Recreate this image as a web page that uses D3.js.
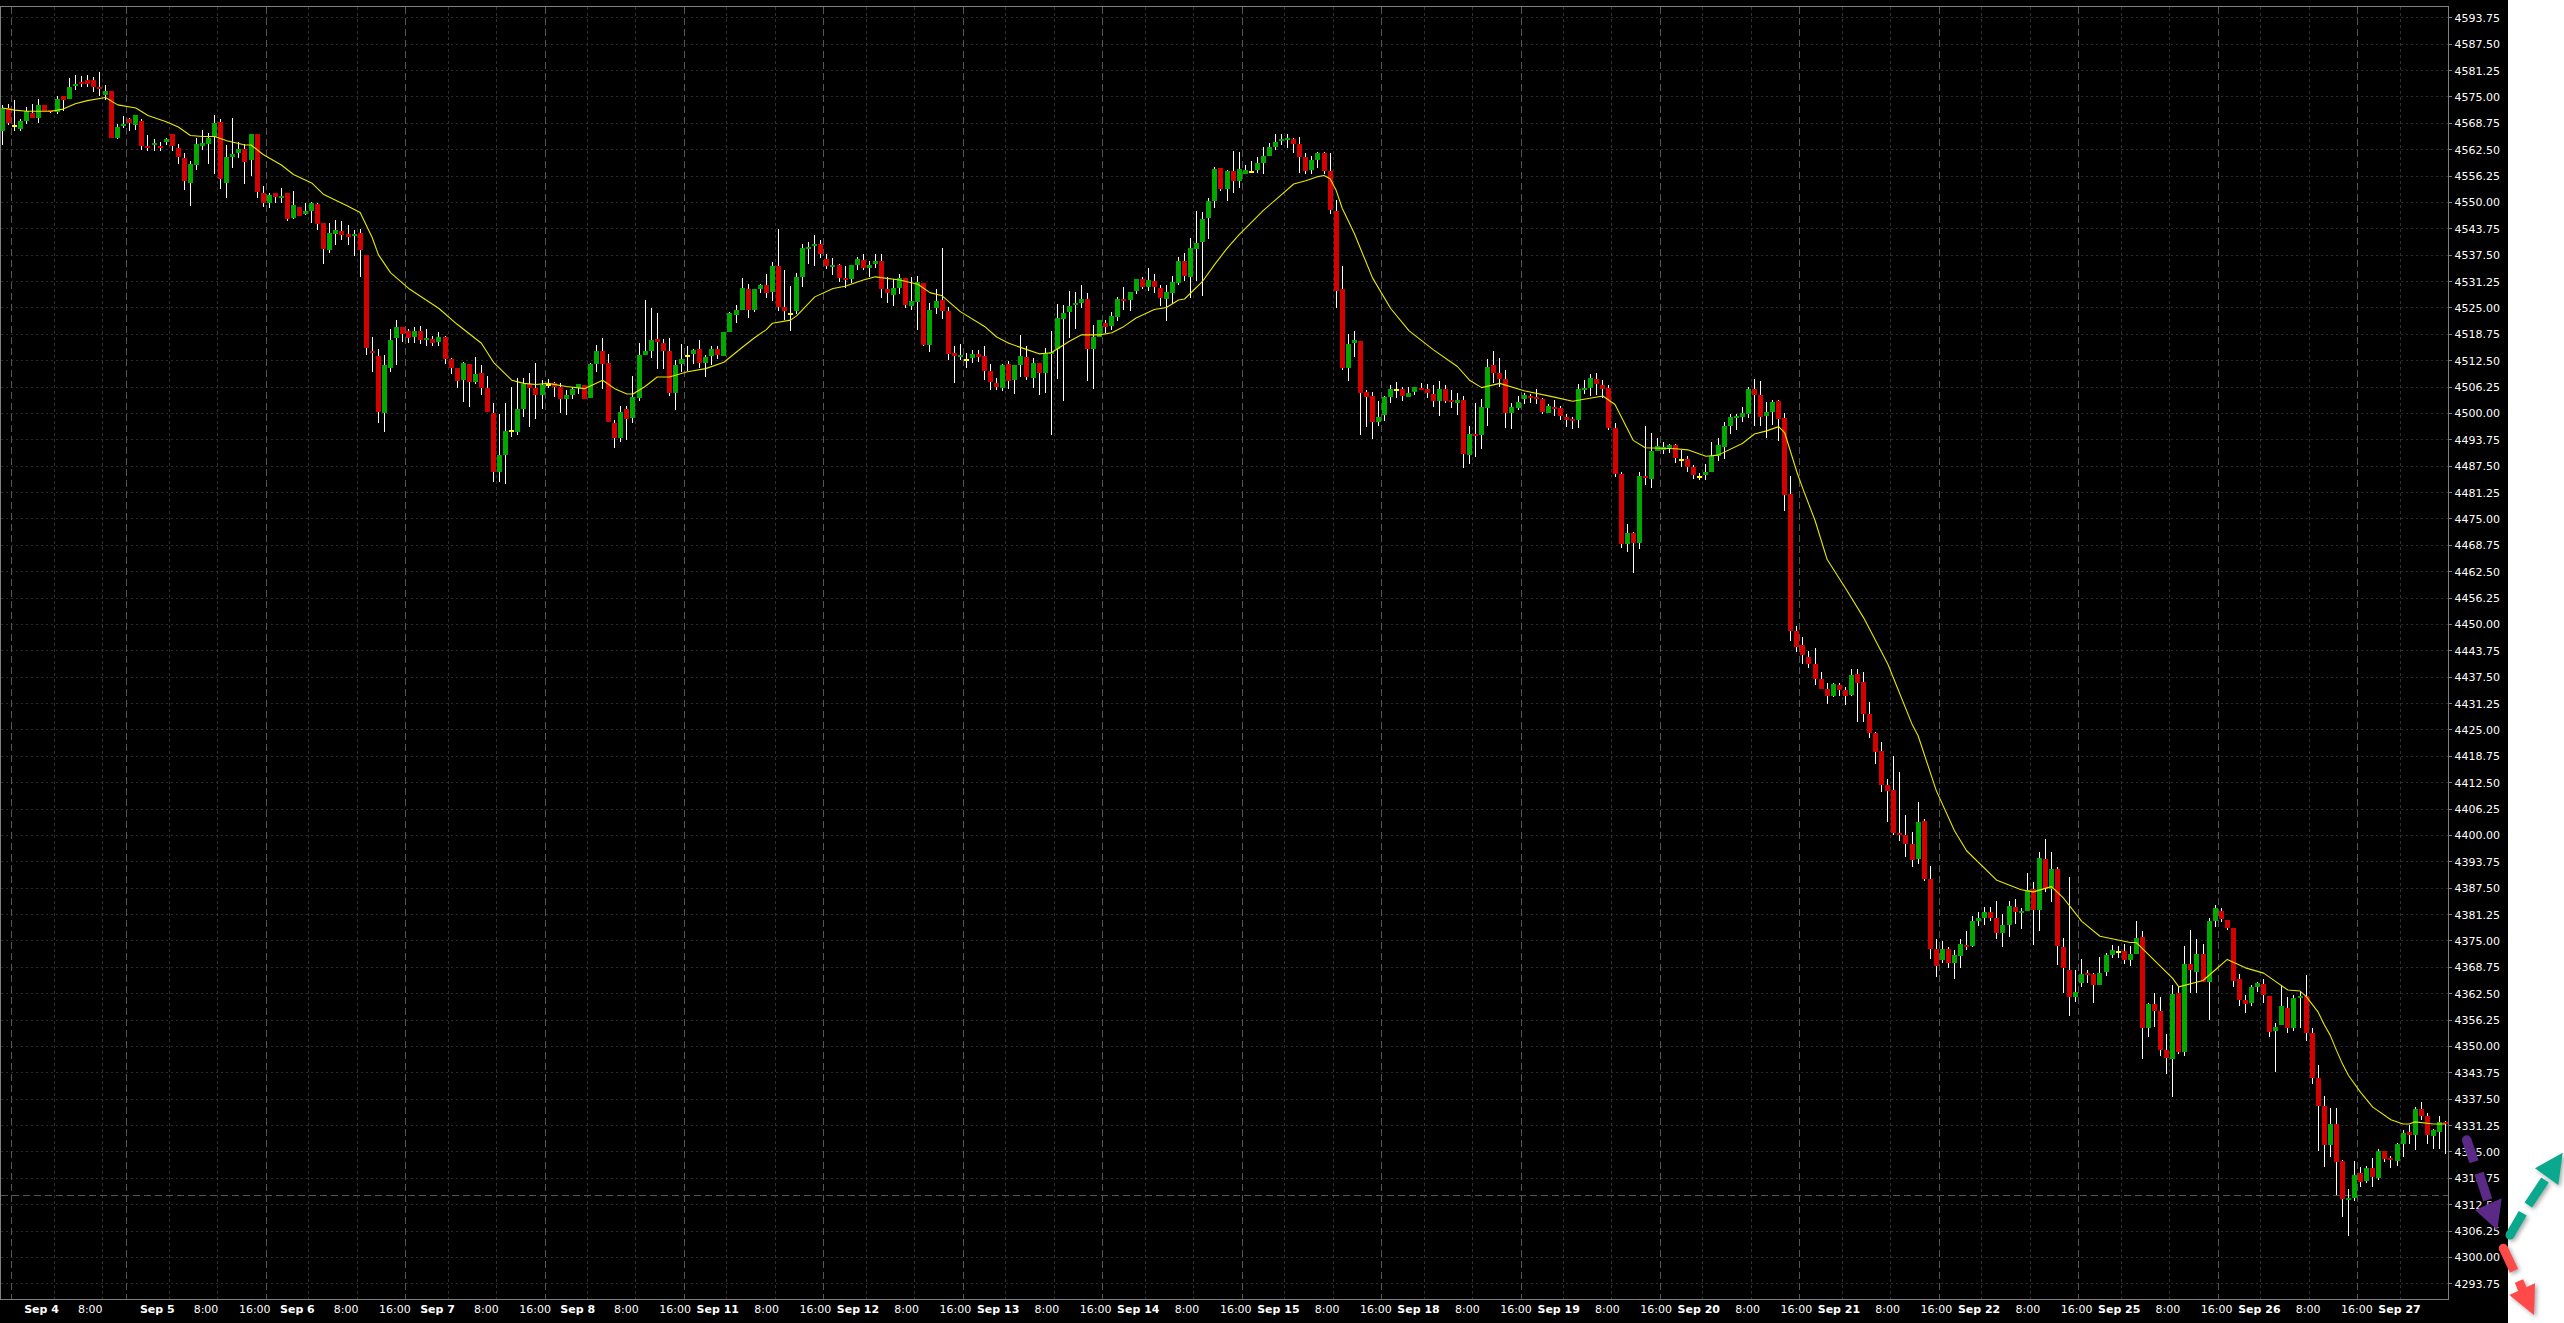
<!DOCTYPE html>
<html><head><meta charset="utf-8">
<script src="https://cdn.jsdelivr.net/npm/d3@7/dist/d3.min.js"></script>
<style>html,body{margin:0;padding:0;background:#fff;overflow:hidden}svg{display:block}text{font-family:"DejaVu Sans",sans-serif}</style>
</head><body><svg id="c" width="2564" height="1323"></svg>
<script>
const opens=[4566.75,4572.25,4568.25,4567.25,4569.25,4571,4570,4573,4571.75,4571.25,
4575,4574.5,4577.5,4578.5,4579,4579,4577.25,4575.25,4576.25,4565.25,
4568,4569.75,4568.25,4569.25,4563.25,4563.5,4563.25,4564.25,4566,4562.75,
4560.5,4554.5,4558.75,4563.25,4563.75,4565.5,4569,4554.5,4560.75,4561.5,
4562.5,4560,4566,4552,4549.75,4552,4551,4552,4546.25,4548.75,
4547.25,4547.75,4549.5,4545,4538.5,4542.5,4543,4542.5,4542.25,4542.75,
4537.5,4514.75,4513.5,4500,4510.75,4517.75,4520.25,4519.5,4518,4519.5,
4517.25,4517.5,4516.75,4518,4512.75,4510.75,4507.75,4511.5,4507.25,4509.5,
4506,4500,4486,4490,4496,4495.5,4501,4506.75,4506,4504.25,
4506.75,4507,4506.25,4503.25,4504.25,4506,4506.5,4503.5,4511.5,4514.75,
4511.75,4497.5,4494,4501,4498.75,4503.5,4513.75,4514.75,4517.5,4516.5,
4514.75,4504.75,4511.5,4513.75,4514,4515.25,4511.75,4513.5,4515.25,4513.5,
4519.25,4523.25,4524.5,4529.25,4524.5,4529.25,4530.25,4528.75,4534.75,4525,
4523.75,4524.25,4532.25,4538.75,4539.5,4540,4536.5,4534.5,4535,4532,
4531.75,4535,4536.25,4534.25,4535.25,4536,4529.25,4528,4529.5,4532,
4525.25,4526.25,4530.75,4516,4524.75,4526.75,4524.25,4514.25,4513.25,4512.75,
4513,4514,4513.5,4510,4507,4506,4511.5,4507.75,4511.25,4513.25,
4508.25,4511.75,4509.5,4514.25,4515.25,4522.25,4524,4525.5,4526,4527,
4515.25,4518,4521.25,4520.5,4522.75,4527,4526.75,4529,4531.75,4529.75,
4531.25,4529.5,4527,4528.5,4530.75,4536,4532.25,4538.75,4540.5,4546.25,
4550.25,4558,4553,4557.25,4555,4556.5,4557.25,4557.5,4559.25,4561,
4563,4564.5,4564.75,4565,4563.75,4560.75,4557.5,4560,4561.5,4557.25,
4547.75,4529.25,4510.75,4516.5,4517,4505,4504,4497.75,4499.5,4503.75,
4505.75,4505.75,4503.75,4505,4506,4505.75,4504.5,4502.75,4505.75,4503,
4502.25,4503,4490,4495,4494.75,4501.25,4511.25,4509.5,4508,4500,
4501.25,4503.25,4504,4503.75,4503.25,4500,4501.5,4501.25,4499,4498.5,
4498.25,4505.5,4506,4508,4506.5,4506,4496.5,4485.5,4469,4471.5,
4469.25,4485,4484.25,4491,4491.25,4491.75,4492.5,4489,4489,4487.25,
4485,4485.25,4486,4489.75,4492,4497,4498.75,4499,4499.75,4505.75,
4504.25,4499.25,4500.25,4502.75,4498.75,4480.75,4448.25,4445,4442.25,4440.5,
4437,4434.5,4433,4435.5,4434.25,4433.25,4438.25,4436.25,4428.75,4424.25,
4420,4411.75,4410.75,4400.5,4400,4397.75,4394.25,4403.25,4389.5,4373,
4370.25,4373,4369.75,4371.25,4374,4373.75,4379.5,4380.25,4381.75,4380.25,
4376.75,4378.75,4383,4381.75,4382,4387.25,4382.25,4394.25,4387.25,4392,
4373.5,4368,4361.5,4365,4367.25,4367,4364.5,4367.5,4371.5,4372.5,
4372.5,4370.25,4371.75,4375.75,4354.25,4360,4358.25,4349,4347,4362.5,
4348.5,4369.5,4367.5,4371.75,4365.25,4379.5,4382,4379.75,4378,4365.75,
4361,4360.25,4364,4364.75,4361.75,4353.5,4355,4359,4354.25,4361.25,
4361.75,4353,4342.5,4335.75,4326.5,4331.5,4322.75,4313.5,4314,4320,
4318,4321,4318.75,4325,4323.5,4322.75,4326.75,4329.5,4329,4335,
4333.5,4328.75,4329.5,4332];
const highs=[4573,4573.25,4574.25,4569.75,4572.5,4573.25,4574.5,4573,4571.75,4575,
4575,4579.25,4580,4579.75,4580,4579.5,4580.75,4577.75,4576.25,4568.5,
4570.25,4570,4570.5,4569.75,4565.75,4565,4564.25,4565.25,4566,4563.75,
4561.5,4559.75,4565.25,4567,4566.25,4570.5,4569.75,4563.5,4570,4564.25,
4563.75,4566,4566,4553.75,4552,4552,4553.25,4552,4552.5,4548.75,
4549.75,4550,4549.75,4545,4545,4545.75,4545.5,4544.5,4543.25,4543.5,
4537.5,4518,4515.25,4513.75,4520,4522,4520.25,4520,4520.25,4520.5,
4520,4518.25,4519.25,4518.25,4513,4510.75,4512,4511.5,4513.25,4511.25,
4508.75,4502.25,4499.75,4502.25,4506.25,4508.25,4508.25,4509.5,4511.75,4507.75,
4508,4507.25,4507,4505.5,4506.25,4506.75,4506.5,4511.75,4516,4517.75,
4514,4498.25,4501.75,4501.75,4508.75,4516.5,4526.75,4524.75,4523.75,4517.5,
4517.75,4512.5,4516.25,4515.75,4515.25,4517.25,4513.75,4515.75,4515.75,4519.25,
4524,4525.5,4532,4530.5,4529.25,4530.5,4533,4535.75,4543.5,4533.75,
4530,4533.25,4540,4540.5,4542.25,4541,4537.75,4536.75,4535.25,4534.75,
4535,4537,4537.75,4536,4537.75,4537.75,4532.25,4531.75,4533,4532,
4532.25,4532.5,4530.75,4526,4529.25,4539,4525,4515.75,4516.25,4514.25,
4515,4515,4515.75,4511.5,4508.25,4511.5,4512.25,4511.25,4518.5,4515.75,
4513,4511.75,4515.5,4519.5,4525.75,4525.5,4529,4528.75,4530.25,4528.5,
4520.75,4522,4522,4524,4527.5,4529.75,4528.75,4531.75,4532.25,4534.25,
4533,4530.25,4530.25,4532.5,4537,4538,4541.5,4547.75,4547.5,4551,
4558.25,4558,4557.5,4562,4561.75,4558.75,4559.75,4560.75,4563,4564,
4566,4566,4566,4565.25,4565.5,4561.5,4561,4561.75,4561.75,4561.5,
4550.5,4534.75,4518.75,4519.5,4517,4505.5,4505,4502.75,4504,4506.5,
4507.25,4506.25,4506.25,4506.25,4507,4506.75,4506.5,4507.5,4506.5,4505.5,
4504.75,4504,4497,4502.25,4503.25,4512.75,4514.75,4513,4510.25,4502.25,
4504,4504.75,4504.5,4505.75,4503.5,4502,4503,4501.75,4499.75,4499,
4506.75,4507.75,4509.25,4509.5,4507.75,4506.5,4497.5,4486,4473.75,4471.75,
4486,4497,4495.25,4494,4493,4492.75,4492.75,4491.25,4489.75,4487.75,
4485.75,4488,4493,4494,4497.75,4499.75,4499.75,4501.5,4506.25,4508,
4507.5,4502.5,4503,4503,4500,4485,4449.5,4447,4443.5,4444.25,
4438.5,4436,4436,4436,4435,4439.25,4439.25,4438.5,4431.5,4424.5,
4422,4413.25,4418.75,4415,4404.75,4400.75,4407.75,4403.75,4392.75,4375.25,
4374.75,4373.5,4372.75,4375.25,4377.25,4380.75,4381.75,4383,4383,4384.25,
4381.25,4384.25,4384.75,4382.75,4391,4388.75,4396,4399,4396,4392.5,
4375.5,4390,4368,4370.5,4368,4367.25,4371,4372,4374,4373.75,
4374.25,4373.75,4379.5,4377.25,4360.25,4362.5,4361.5,4352.75,4364.5,4364,
4373.75,4377.5,4375.25,4374.25,4380.25,4383.5,4382.75,4379.75,4378,4367,
4362,4364.5,4365.25,4365.75,4361.75,4355.5,4364.5,4361.5,4362,4363,
4366.75,4354.25,4345.5,4338.25,4335.25,4335.25,4323,4316,4322.75,4321.25,
4321.5,4323.5,4325.5,4325,4324,4327,4330,4331.25,4335.5,4336.75,
4334,4330.25,4333.5,4332.25];
const lows=[4563.5,4568.25,4566.75,4566.75,4568.5,4570,4568.75,4571.5,4571,4570.75,
4571.5,4574.5,4576.5,4577.25,4577.25,4576,4575,4574.25,4565.25,4565,
4567.5,4566.75,4567,4562.25,4562,4562,4562,4563.5,4562,4559,
4552.75,4549,4557.5,4562.25,4559,4556.5,4553,4551,4558,4560.5,
4554.25,4556.25,4551,4548.75,4548.5,4549.75,4549.75,4545.5,4546,4546.75,
4547,4545,4543.25,4535.25,4538,4539.75,4541,4539.75,4537.25,4532.25,
4513.75,4509.75,4497.5,4495.5,4509.75,4511.25,4516.75,4516.5,4516.5,4516.25,
4515.75,4515.75,4515.75,4511.5,4509.25,4506,4502.5,4501.5,4506.75,4504.25,
4500.25,4483.75,4483.75,4483.25,4494.25,4494.75,4499,4496.75,4498.5,4501,
4506,4503.75,4500,4499.5,4503.25,4504.5,4503.25,4503.5,4509.75,4505.75,
4497.75,4491.75,4493,4493.5,4497.5,4502.75,4513.75,4513,4510.5,4510.5,
4504,4500.75,4509.75,4510,4511.5,4510.75,4508.5,4511.25,4512.75,4513.5,
4519.25,4521.25,4524.5,4522.5,4524,4528.5,4527.25,4526.5,4524.25,4522,
4519.5,4523.5,4529.75,4535.25,4534.75,4536.75,4534,4532.75,4531,4529.5,
4530.75,4533.75,4533.75,4532.25,4534.25,4527.25,4526,4525.25,4528.25,4524.75,
4524.5,4519.75,4515.75,4514.5,4523.5,4522.25,4512.5,4507,4512.5,4510.75,
4511.75,4512,4507.75,4505.5,4505.5,4505.25,4505.75,4504.5,4508.5,4507.75,
4506,4504.25,4504.75,4494.75,4508,4502.75,4517.75,4520,4524.75,4507.5,
4505.75,4518,4519,4519.75,4521.75,4524.5,4524.25,4528.25,4529.25,4529,
4528.5,4525.25,4521.75,4525.75,4530.25,4531.25,4527.25,4531.25,4527.75,4541.25,
4548.5,4552.5,4550.25,4552,4553.25,4556.5,4556.75,4556.75,4556.5,4561,
4562.25,4563.5,4562.75,4561.5,4556.75,4556.5,4556.5,4558,4556.5,4547.25,
4524.75,4510.25,4507.5,4513.25,4494.75,4496.75,4493.75,4497,4498,4502.25,
4503.5,4502.75,4503.75,4504.25,4505.5,4503.5,4501.5,4499.25,4502.25,4501.25,
4499.5,4487,4488,4489.5,4491.5,4497,4507,4506.25,4496.5,4496.25,
4500.75,4502,4502.25,4502,4499.75,4500,4499.25,4498.25,4496.75,4496.25,
4496.5,4504.5,4504,4504.25,4503.5,4496,4484.75,4468,4467,4462,
4467.75,4483,4482.25,4491,4490.25,4490.5,4488.25,4487.25,4486,4484.25,
4484,4484,4486,4488.5,4489,4495,4496,4497.75,4498.75,4497,
4497,4494,4497.25,4493.25,4476.75,4446,4443.25,4440.5,4439.5,4435.5,
4434.5,4431,4432.75,4433,4430.75,4433,4426.75,4426.75,4423,4416.75,
4410.25,4403,4400,4398.5,4394.75,4392.5,4393,4389,4370.5,4366.25,
4369.75,4368.5,4365.75,4368.5,4372.75,4373.5,4378.5,4378.75,4379.5,4375.25,
4373.5,4375.75,4379,4377.75,4382,4374,4377.25,4386.5,4384,4369.25,
4362.5,4357,4360.5,4364,4365,4360.25,4364.5,4366.5,4370.75,4370.75,
4369.5,4369,4371.75,4347,4352,4354.5,4347.5,4343.25,4338,4348,
4347.5,4362.5,4362.5,4365.25,4356.25,4378.25,4379.25,4377.5,4364,4359.5,
4357.75,4359.5,4362.75,4360.25,4352,4343.75,4355,4353,4353.5,4354.25,
4351.25,4341,4325,4321.25,4323.75,4314.75,4309.5,4305,4313.25,4316.5,
4317.5,4316.5,4318.25,4322.5,4321,4321.5,4323.75,4326.75,4325.25,4332.5,
4326.75,4325.5,4325.5,4324.5];
const closes=[4572.25,4568.75,4568.25,4569.25,4571.5,4570,4573,4571.5,4571.5,4574.5,
4574.25,4577.25,4578,4578,4578,4577.25,4576.75,4576.25,4565.25,4567.75,
4568.5,4568.75,4570.5,4563.25,4562.75,4564,4562.75,4565,4563.25,4560.75,
4555,4559,4563.75,4564,4565.25,4568.75,4555.5,4560.75,4561.25,4562.5,
4559.5,4566,4552.25,4549.75,4551.75,4551.25,4551.5,4546,4549.25,4546.75,
4547.75,4549.75,4544.75,4538.75,4542.75,4543.25,4542.25,4541.75,4542.5,4538.5,
4515.5,4514.25,4500.25,4511.25,4517.25,4520.25,4518.75,4517.75,4519.5,4517.25,
4517.75,4516.5,4518,4512.75,4510.75,4507.5,4511.75,4507.25,4509.25,4506,
4500.25,4486,4490,4495.75,4496,4501,4506.75,4506,4504.25,4506.5,
4506.75,4506.25,4503.25,4504.25,4505.75,4506.75,4503.25,4511.5,4514.75,4511.5,
4497.75,4494,4500.25,4498.5,4503.75,4513.75,4514.75,4517.25,4516.75,4514.75,
4504.75,4511.25,4512.75,4513.75,4515,4511.75,4513.25,4515.25,4513.75,4519.25,
4523.75,4524.5,4529.5,4524.5,4529.25,4530.25,4528.5,4534.75,4525,4524.25,
4523.75,4532.25,4539,4539.25,4540,4537.75,4534.75,4535,4532,4531.5,
4535,4536.5,4534.25,4535,4536,4529.25,4528.5,4529.5,4532,4525.5,
4526.5,4531,4516,4524.5,4526.5,4524.25,4514,4513.5,4513.75,4512.75,
4514,4513.25,4510,4507.25,4506.25,4511.25,4507.5,4511.25,4513.5,4508.5,
4511.75,4509.5,4514.25,4514.5,4522.5,4523.75,4525.25,4526,4527,4515.25,
4518,4522,4520.25,4523,4527,4526.5,4528.75,4531.75,4529.75,4531.5,
4529.75,4527.25,4528.75,4531,4536,4532.5,4539,4540.25,4546,4550.25,
4557.75,4553,4557.25,4555,4557.75,4557.5,4557.25,4559.25,4561,4563,
4564.25,4565,4565.25,4563.75,4560.75,4557.25,4560,4561.5,4557.25,4548,
4529,4510.75,4516.25,4517.25,4504.75,4503.75,4497.75,4499,4503.75,4505.75,
4505.75,4504,4504.75,4506.25,4505.75,4504.75,4502.75,4505.75,4502.75,4502.5,
4503,4490.25,4495,4494.5,4501.5,4511,4509.5,4508,4500,4501.5,
4502.5,4504.25,4503.5,4503.25,4500.25,4501.75,4501.25,4499.25,4498.25,4498,
4505.75,4506,4508.25,4506.75,4505.75,4496.5,4485.5,4469,4471.5,4469.25,
4485,4484.5,4491,4492.25,4492,4492.5,4489.25,4489,4487.25,4485.25,
4485,4486,4489.75,4492.5,4497,4499,4499.25,4500,4505.75,4504.25,
4499,4500.25,4502.5,4498.5,4480.5,4448.25,4444.5,4442.75,4440.5,4437,
4434.5,4433,4435.75,4434.25,4433,4438,4436,4428.75,4424.25,4419.75,
4411.75,4410.5,4400.5,4400,4397.75,4394,4403,4389.5,4373,4369,
4373,4369.75,4371.5,4374.25,4373.5,4379.5,4380.25,4381.75,4380.25,4376.75,
4378.75,4383.25,4381.75,4382,4387,4382.25,4394.5,4387.25,4392,4373.75,
4368.5,4361.5,4362.75,4367,4366.75,4364.5,4367.25,4371.5,4372.75,4372.5,
4370.25,4371.75,4375.5,4354.25,4360,4358.25,4349,4347.25,4362.25,4348.5,
4369.5,4368,4371.75,4365.25,4379.5,4382.75,4380,4378,4365.5,4361,
4360,4364,4365,4362,4353.25,4354.5,4359.5,4354.25,4361.25,4361.75,
4353,4342.5,4335.75,4326.5,4331.5,4322.5,4313.75,4314,4319.5,4317.75,
4321,4319,4325,4323.25,4323,4326.75,4329.25,4329,4335,4333.5,
4329,4330,4332,4331.5];
const maIndex=[0,2,4,8,10,12,14,17,19,22,24,27,29,31,33,35,37,40,41,43,46,48,51,53,57,59,61,62,64,67,72,75,79,81,84,86,88,90,93,96,99,101,103,104,106,108,110,113,116,119,122,124,126,127,130,131,134,137,139,142,144,148,151,153,155,158,162,164,166,169,171,173,176,178,181,183,185,187,190,192,194,195,198,200,202,204,208,210,213,215,217,218,219,220,221,223,226,229,232,236,240,242,244,247,251,256,259,264,266,269,271,276,278,281,283,287,289,291,293,294,296,297,299,301,304,307,311,315,316,319,322,324,329,333,335,338,340,343,346,351,352,358,359,363,365,367,370,373,377,379,380,382,383,384,385,386,387,389,391,394,396,397,398,401,403];
const maValue=[4572.25,4571.75,4571.5,4571.5,4572,4573.25,4574,4574.75,4573,4572.25,4570.5,4569,4567.75,4565.75,4565.5,4565.5,4564.5,4563.5,4563.5,4561.25,4558.75,4556.5,4554.5,4551.75,4549,4547.5,4541.5,4537.5,4533.25,4529.5,4524.75,4521,4516.5,4512,4507.75,4507,4506.75,4507,4506.25,4505.75,4507.75,4505.75,4504.5,4504.5,4506.25,4508.5,4508.5,4509.75,4510.5,4512,4515.5,4517.75,4519.75,4521.25,4522,4523,4527.5,4529.5,4530,4531.5,4532.25,4531.5,4530.5,4528.5,4527.75,4524,4520.5,4518,4516.5,4515,4514,4514.25,4517,4518.5,4518.5,4519,4520.5,4522.5,4524.5,4525,4526.75,4527,4531.25,4535.25,4539,4542.25,4548,4550.5,4554.25,4555,4556,4556.25,4555.5,4552.75,4548.5,4542.5,4532,4524.75,4519.5,4515,4511,4507.75,4506,4507,4505.25,4503.75,4502.75,4504,4502,4493.5,4491.75,4491.5,4491.25,4489.75,4490,4492.75,4495,4495.75,4496.75,4495.25,4486,4482,4474.5,4465.25,4458.5,4451.5,4440.5,4426.25,4423.5,4410.5,4401,4396.25,4389.25,4387,4386.5,4387.75,4385,4379.5,4376,4374.5,4374.5,4366,4364,4365.5,4368,4370.5,4368.5,4367.25,4363.25,4363,4361.75,4358,4355,4352.5,4349,4345.75,4343,4339,4335.5,4332.5,4331.5,4331.5,4332,4331.5,4331.5];
const yTicks=[4593.75,4587.5,4581.25,4575,4568.75,4562.5,4556.25,4550,4543.75,4537.5,4531.25,4525,4518.75,4512.5,4506.25,4500,4493.75,4487.5,4481.25,4475,4468.75,4462.5,4456.25,4450,4443.75,4437.5,4431.25,4425,4418.75,4412.5,4406.25,4400,4393.75,4387.5,4381.25,4375,4368.75,4362.5,4356.25,4350,4343.75,4337.5,4331.25,4325,4318.75,4312.5,4306.25,4300,4293.75];
const xTickIndex=[8.5,16.5,27.5,35.5,43.5,50.5,58.5,66.5,73.5,81.5,89.5,96.5,104.5,112.5,119.5,127.5,135.5,142.5,150.5,158.5,165.5,173.5,181.5,188.5,196.5,204.5,211.5,219.5,227.5,234.5,242.5,250.5,257.5,265.5,273.5,280.5,288.5,296.5,303.5,311.5,319.5,326.5,334.5,342.5,349.5,357.5,365.5,372.5,380.5,388.5,395.5];
const xTickLabels=["Sep 4","8:00","Sep 5","8:00","16:00","Sep 6","8:00","16:00","Sep 7","8:00","16:00","Sep 8","8:00","16:00","Sep 11","8:00","16:00","Sep 12","8:00","16:00","Sep 13","8:00","16:00","Sep 14","8:00","16:00","Sep 15","8:00","16:00","Sep 18","8:00","16:00","Sep 19","8:00","16:00","Sep 20","8:00","16:00","Sep 21","8:00","16:00","Sep 22","8:00","16:00","Sep 25","8:00","16:00","Sep 26","8:00","16:00","Sep 27"];
const dayLineIndex=[1.5,20.5,43.5,66.5,89.5,112.5,135.5,158.5,181.5,204.5,227.5,250.5,273.5,296.5,319.5,342.5,365.5,388.5];
const dimLineIndex=[8.5,16.5,27.5,35.5,50.5,58.5,73.5,81.5,96.5,104.5,119.5,127.5,142.5,150.5,165.5,173.5,188.5,196.5,211.5,219.5,234.5,242.5,257.5,265.5,280.5,288.5,303.5,311.5,326.5,334.5,349.5,357.5,372.5,380.5,395.5];
const markerPrice=4314.75;

const n=opens.length;
if(highs.length!==n||lows.length!==n||closes.length!==n||maIndex.length!==maValue.length)
  throw new Error("len "+[n,highs.length,lows.length,closes.length,maIndex.length,maValue.length].join(","));

const svg=d3.select("#c");
const F={l:0.5,t:6.5,r:2448.5,b:1299.5};
svg.append("rect").attr("x",0).attr("y",0).attr("width",2508).attr("height",1323).attr("fill","#000");
const x=d3.scaleLinear().domain([0,403]).range([2.5,2445.5]);
const y=d3.scaleLinear().domain([4593.75,4293.75]).range([17.3,1283.3]);
const labelX=d3.scaleLinear().domain([8.5,395.5]).range([41,2399]);
const px=v=>Math.floor(x(v))+.5;
const py=v=>Math.round(y(v))+.5;
const crisp="crispEdges";

const grid=svg.append("g").attr("shape-rendering",crisp).attr("fill","none");
grid.selectAll(".h").data(yTicks).join("line").attr("x1",F.l).attr("x2",F.r).attr("y1",py).attr("y2",py)
  .attr("stroke","#2a2a2a").attr("stroke-dasharray","2,3");
grid.selectAll(".d").data(dimLineIndex).join("line").attr("x1",px).attr("x2",px).attr("y1",F.t).attr("y2",F.b)
  .attr("stroke","#303030").attr("stroke-dasharray","3,3");
grid.selectAll(".b").data(dayLineIndex).join("line").attr("x1",px).attr("x2",px).attr("y1",F.t).attr("y2",F.b)
  .attr("stroke","#555").attr("stroke-dasharray","7,4");
grid.append("line").attr("x1",F.l).attr("x2",F.r).attr("y1",py(markerPrice)).attr("y2",py(markerPrice))
  .attr("stroke","#555").attr("stroke-dasharray","7,4");

const idx=d3.range(n);
const kind=i=>closes[i]>opens[i]?"up":closes[i]<opens[i]?"down":"flat";
const col={up:"#00a800",down:"#d40000",flat:"#ffff00"};
const g=svg.append("g").attr("shape-rendering",crisp);
g.selectAll(".w").data(idx).join("rect")
  .attr("x",i=>Math.floor(x(i))).attr("width",1)
  .attr("y",i=>Math.round(y(highs[i]))).attr("height",i=>Math.max(1,Math.round(y(lows[i]))-Math.round(y(highs[i]))))
  .attr("fill","#fff");
const bodyTop=i=>Math.round(y(Math.max(opens[i],closes[i])));
g.selectAll(".k").data(idx).join("rect")
  .attr("x",i=>Math.floor(x(i))-2).attr("width",5)
  .attr("y",bodyTop)
  .attr("height",i=>Math.max(2,Math.round(y(Math.min(opens[i],closes[i])))-bodyTop(i)))
  .attr("fill",i=>col[kind(i)]);

const ma=d3.line().x(i=>x(maIndex[i])).y(i=>y(maValue[i]));
svg.append("path").attr("d",ma(d3.range(maIndex.length))).attr("fill","none").attr("stroke","#e8e800").attr("stroke-width",1.1).attr("stroke-linejoin","round");

svg.append("rect").attr("x",F.l).attr("y",F.t).attr("width",F.r-F.l).attr("height",F.b-F.t).attr("fill","none").attr("stroke","#808080").attr("shape-rendering",crisp);

const yAxis=svg.append("g").attr("transform",`translate(${F.r},0)`)
  .call(d3.axisRight(y).tickValues(yTicks).tickFormat(d3.format(".2f")).tickSize(3).tickPadding(3));
yAxis.select(".domain").remove();
yAxis.selectAll("line").attr("stroke","#808080").attr("shape-rendering",crisp);
yAxis.selectAll("text").attr("fill","#fff").attr("font-size",11).style("font-family",'"DejaVu Sans"').attr("dy","0.36em");

const byIdx=new Map(xTickIndex.map((v,i)=>[v,xTickLabels[i]]));
const xAxis=svg.append("g").attr("transform",`translate(0,${F.b})`)
  .call(d3.axisBottom(labelX).tickValues(xTickIndex).tickFormat(v=>byIdx.get(v)).tickSize(0).tickPadding(6));
xAxis.select(".domain").remove();
xAxis.selectAll("text").attr("fill","#fff").attr("font-size",11).style("font-family",'"DejaVu Sans"')
  .attr("font-weight",v=>byIdx.get(v).startsWith("Sep")?"bold":"normal");

const arrows=[
 {c:"#5b2a86",w:9.5,segs:[[[2466.7,1140],[2474,1161.7]],[[2479,1173.3],[2487.7,1200]]],head:[[2475,1210],[2501.7,1198.3],[2497.3,1230]]},
 {c:"#0aa88c",w:9,segs:[[[2510,1235],[2522.7,1213.3]],[[2528.3,1205],[2545,1180]]],head:[[2535,1168.3],[2562.7,1152.7],[2558.3,1185]]},
 {c:"#ff4a4a",w:9,segs:[[[2503.3,1248.3],[2514,1270.7]],[[2519,1281],[2522.7,1290]]],head:[[2509.3,1295],[2535,1283.3],[2534,1315]]}
];
const ag=svg.append("g").style("filter","drop-shadow(2px 2px 2px rgba(0,0,0,.35))");
arrows.forEach(a=>{
  a.segs.forEach((s,i)=>{
    ag.append("line").attr("x1",s[0][0]).attr("y1",s[0][1]).attr("x2",s[1][0]).attr("y2",s[1][1])
      .attr("stroke",a.c).attr("stroke-width",a.w).attr("stroke-linecap","butt");
    if(i===0) ag.append("circle").attr("cx",s[0][0]).attr("cy",s[0][1]).attr("r",a.w/2).attr("fill",a.c);
  });
  ag.append("polygon").attr("points",a.head.map(p=>p.join(",")).join(" ")).attr("fill",a.c);
});
</script></body></html>
